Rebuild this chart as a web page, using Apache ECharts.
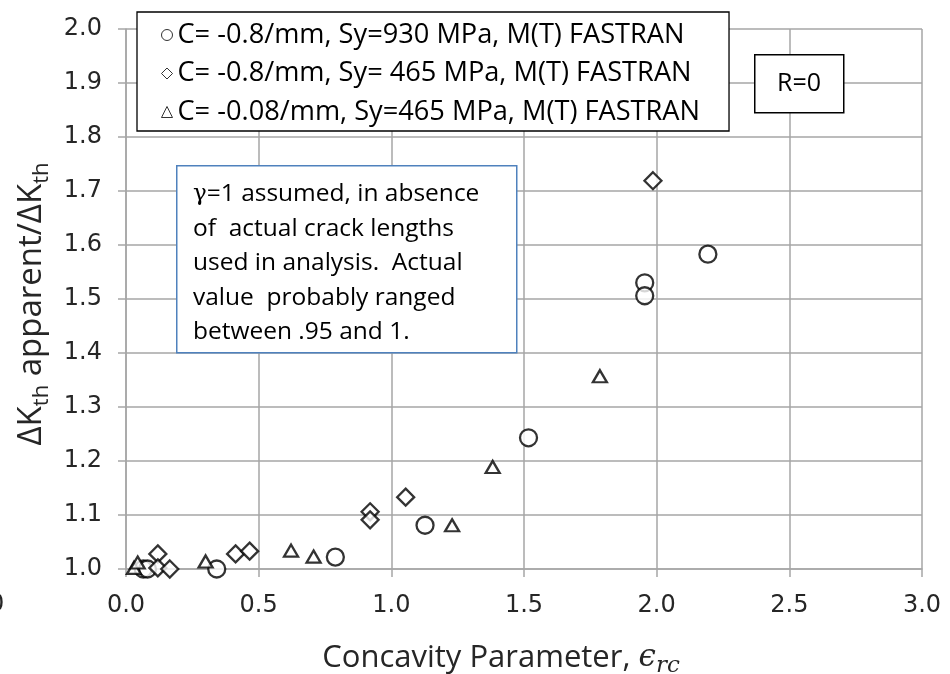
<!DOCTYPE html>
<html>
<head>
<meta charset="utf-8">
<script src="https://cdn.jsdelivr.net/npm/echarts@6/dist/echarts.min.js"></script>
<style>
  html, body { margin: 0; padding: 0; background: #fff; }
  #main { width: 950px; height: 674px; }
</style>
</head>
<body>
<div id="main"></div>
<script>
// series names (legend)
const seriesNames = [
  'C= -0.8/mm, Sy=930 MPa, M(T) FASTRAN',
  'C= -0.8/mm, Sy= 465 MPa, M(T) FASTRAN',
  'C= -0.08/mm, Sy=465 MPa, M(T) FASTRAN'
]
// concavity parameter vs dKth apparent / dKth
const circleX = [0.065, 0.081, 0.342, 0.789, 1.127, 1.517, 1.955, 1.955, 2.193]
const circleY = [1.000, 1.000, 1.000, 1.022, 1.081, 1.243, 1.530, 1.506, 1.583]
const diamondX = [0.120, 0.120, 0.165, 0.413, 0.466, 0.920, 0.920, 1.054, 1.986]
const diamondY = [1.028, 1.002, 1.000, 1.028, 1.033, 1.106, 1.091, 1.133, 1.719]
const triangleX = [0.030, 0.044, 0.300, 0.622, 0.707, 1.229, 1.382, 1.786]
const triangleY = [1.002, 1.012, 1.014, 1.034, 1.023, 1.081, 1.189, 1.357]

const noteLines = [
  '{g|γ}=1 assumed, in absence',
  'of  actual crack lengths',
  'used in analysis.  Actual',
  'value  probably ranged',
  'between .95 and 1.'
]

const zip = (xs, ys) => xs.map((x, i) => [x, ys[i]])

const chart = echarts.init(document.getElementById('main'))

const markerStyle = { color: '#fff', borderColor: '#000', borderWidth: 2.3 }
const gridColor = '#a6a6a6'
const textColor = '#262626'

const option = {
  animation: false,
  backgroundColor: '#fff',
  grid: { left: 126, right: 28, top: 29, bottom: 105, outerBoundsMode: 'none', containLabel: false },
  legend: {
    orient: 'vertical',
    left: 137,
    top: 12,
    padding: [8, 29, 4, 24],
    itemGap: 8.5,
    itemWidth: 11,
    itemHeight: 11,
    backgroundColor: '#fff',
    borderColor: '#000',
    borderWidth: 1.3,
    itemStyle: { borderWidth: 1 },
    textStyle: { fontFamily: 'Open Sans', fontSize: 27.2, lineHeight: 30, color: '#000' },
    data: seriesNames
  },
  xAxis: {
    type: 'value',
    min: 0, max: 3, interval: 0.5,
    axisLine: { show: true, lineStyle: { color: gridColor, width: 1.5 } },
    axisTick: { show: true, length: 8, lineStyle: { color: gridColor, width: 1.5 } },
    splitLine: { show: true, lineStyle: { color: gridColor, width: 1.5 } },
    axisLabel: {
      formatter: v => v.toFixed(1),
      fontFamily: 'DejaVu Sans', fontSize: 24, color: textColor, margin: 25
    },
    name: '{m|Concavity Parameter, }{e|ϵ}{s|rc}',
    nameLocation: 'middle',
    nameGap: 69,
    nameTextStyle: {
      padding: [0, 46, 0, 0],
      rich: {
        m: { fontFamily: 'Open Sans', fontSize: 31, color: textColor, lineHeight: 40 },
        e: { fontFamily: 'DejaVu Serif', fontStyle: 'italic', fontSize: 31, color: textColor, lineHeight: 40 },
        s: { fontFamily: 'DejaVu Serif', fontStyle: 'italic', fontSize: 23, color: textColor, lineHeight: 30, verticalAlign: 'bottom' }
      }
    }
  },
  yAxis: {
    type: 'value',
    min: 1, max: 2, interval: 0.1,
    axisLine: { show: true, lineStyle: { color: gridColor, width: 1.5 } },
    axisTick: { show: true, length: 8, lineStyle: { color: gridColor, width: 1.5 } },
    splitLine: { show: true, lineStyle: { color: gridColor, width: 1.5 } },
    axisLabel: {
      formatter: v => v.toFixed(1),
      fontFamily: 'DejaVu Sans', fontSize: 24, color: textColor, margin: 24
    },
    name: '{m|ΔK}{s|th}{m| apparent/ΔK}{s|th}',
    nameLocation: 'middle',
    nameRotate: 90,
    nameGap: 66,
    nameTextStyle: {
      padding: [0, 10, 0, 0],
      rich: {
        m: { fontFamily: 'Open Sans', fontSize: 33, color: textColor, lineHeight: 42 },
        s: { fontFamily: 'Open Sans', fontSize: 22, color: textColor, lineHeight: 30, verticalAlign: 'bottom' }
      }
    }
  },
  series: [
    { name: seriesNames[0], type: 'scatter', symbol: 'circle', symbolSize: 17, itemStyle: markerStyle, data: zip(circleX, circleY) },
    { name: seriesNames[1], type: 'scatter', symbol: 'diamond', symbolSize: [17, 17], itemStyle: markerStyle, data: zip(diamondX, diamondY) },
    { name: seriesNames[2], type: 'scatter', symbol: 'triangle', symbolSize: [14, 12], itemStyle: markerStyle, data: zip(triangleX, triangleY) }
  ],
  graphic: [
    {
      type: 'rect', left: 176, top: 165, z: 10,
      shape: { width: 340, height: 187 },
      style: { fill: '#fff', stroke: '#4f81bd', lineWidth: 1.5 }
    },
    {
      type: 'text', left: 193, top: 177, z: 11,
      style: {
        text: noteLines.join('\n'), fontFamily: 'Open Sans', fontSize: 24.5, lineHeight: 34.5, fill: '#000',
        rich: { g: { fontFamily: 'DejaVu Serif', fontSize: 23, lineHeight: 34.5, fill: '#000' } }
      }
    },
    {
      type: 'rect', left: 754, top: 54, z: 10,
      shape: { width: 89, height: 58 },
      style: { fill: '#fff', stroke: '#000', lineWidth: 1.5 }
    },
    {
      type: 'text', x: 799, y: 84, z: 11,
      style: { text: 'R=0', fontFamily: 'Open Sans', fontSize: 25, fill: '#000', align: 'center', verticalAlign: 'middle' }
    },
    {
      type: 'text', left: -11, top: 593,
      style: { text: '0', fontFamily: 'DejaVu Sans', fontSize: 24, fill: textColor }
    }
  ]
}

chart.setOption(option)
</script>
</body>
</html>
